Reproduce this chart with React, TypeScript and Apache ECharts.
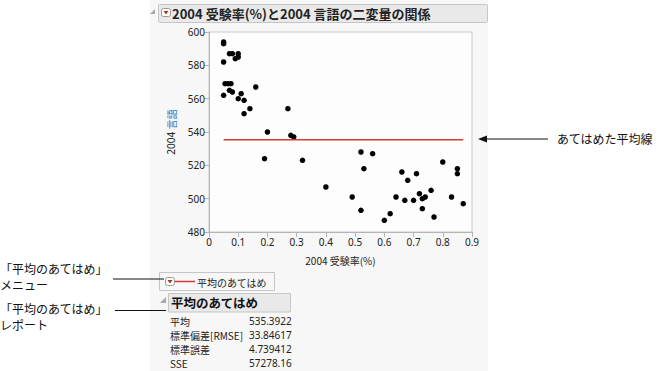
import React, { useEffect, useRef } from "react";
import * as echarts from "echarts";

// 2004 受験率 (x) and 2004 言語 (y)
const rate = [
  0.05, 0.05, 0.05, 0.07, 0.08, 0.1, 0.1, 0.09, 0.05, 0.055, 0.065, 0.075, 0.07, 0.08,
  0.11, 0.1, 0.12, 0.16, 0.14, 0.12, 0.27, 0.2, 0.28, 0.29, 0.19, 0.32, 0.4,
  0.52, 0.56, 0.53, 0.8, 0.85, 0.85, 0.66, 0.71, 0.68, 0.49, 0.64, 0.67, 0.7, 0.72,
  0.73, 0.74, 0.76, 0.83, 0.87, 0.52, 0.73, 0.62, 0.6, 0.77,
];
const verbal = [
  594, 593, 582, 587, 587, 587, 585, 584, 562, 569, 569, 569, 565, 564,
  563, 560, 559, 567, 554, 551, 554, 540, 538, 537, 524, 523, 507,
  528, 527, 518, 522, 518, 515, 516, 515, 511, 501, 501, 499, 499, 503,
  500, 501, 505, 501, 497, 493, 494, 491, 487, 489,
];
const meanValue = 535.3922;
const fitRange = [0.05, 0.87];
const reportLabels = ["平均", "標準偏差[RMSE]", "標準誤差", "SSE"];
const reportValues = ["535.3922", "33.84617", "4.739412", "57278.16"];
const titleText = "2004 受験率(%)と2004 言語の二変量の関係";
const xName = "2004 受験率(%)";
const legendText = "平均のあてはめ";
const reportTitle = "平均のあてはめ";
const noteMenu = ["「平均のあてはめ」", "メニュー"];
const noteReport = ["「平均のあてはめ」", "レポート"];
const noteLine = "あてはめた平均線";

const JP = '"Noto Sans CJK JP", "Noto Sans", sans-serif';

export default function App() {
  const ref = useRef<HTMLDivElement>(null);
  useEffect(() => {
    if (!ref.current) return;
    const chart = echarts.init(ref.current, undefined, { renderer: "svg" });
    const points = rate.map((r, i) => [r, verbal[i]]);
    const rowYs = [321, 335, 349, 363];
    const graphic: any[] = [
      // header
      { type: "polygon", shape: { points: [[155, 9], [155, 14], [150, 14]] }, style: { fill: "#a8a8a8" } },
      { type: "rect", shape: { x: 158.5, y: 4.5, width: 329, height: 18, r: 1 }, style: { fill: "#e9e9e9", stroke: "#c6c6c6", lineWidth: 1 } },
      { type: "rect", shape: { x: 161.5, y: 8.5, width: 9, height: 8, r: 2 }, style: { fill: "#fff", stroke: "#9a9a9a", lineWidth: 1 } },
      { type: "polygon", shape: { points: [[163.5, 11], [168.5, 11], [166, 14.5]] }, style: { fill: "#b8321f" } },
      { type: "text", x: 172, y: 13.5, style: { text: titleText, font: `bold 13px ${JP}`, fill: "#222", verticalAlign: "middle" } },
      // legend box
      { type: "rect", shape: { x: 159.5, y: 272.5, width: 115, height: 18 }, style: { fill: "#f7f7f7", stroke: "#c6c6c6", lineWidth: 1 } },
      { type: "rect", shape: { x: 165.5, y: 277.5, width: 9, height: 8, r: 2 }, style: { fill: "#fff", stroke: "#9a9a9a", lineWidth: 1 } },
      { type: "polygon", shape: { points: [[167.5, 280], [172.5, 280], [170, 283.5]] }, style: { fill: "#b8321f" } },
      { type: "line", shape: { x1: 175, y1: 281.5, x2: 195, y2: 281.5 }, style: { stroke: "#d9383a", lineWidth: 1.5 } },
      { type: "text", x: 197, y: 282, style: { text: legendText, font: `10px ${JP}`, fill: "#222", verticalAlign: "middle" } },
      // report
      { type: "polygon", shape: { points: [[166, 297], [166, 303], [160, 303]] }, style: { fill: "#a8a8a8" } },
      { type: "rect", shape: { x: 168.5, y: 293.5, width: 122, height: 18.5 }, style: { fill: "#e9e9e9", stroke: "#c6c6c6", lineWidth: 1 } },
      { type: "text", x: 171, y: 302.5, style: { text: reportTitle, font: `bold 12.5px ${JP}`, fill: "#111", verticalAlign: "middle" } },
      ...reportLabels.map((t, i) => ({ type: "text", x: 170, y: rowYs[i], style: { text: t, font: `10px ${JP}`, fill: "#222", verticalAlign: "middle" } })),
      ...reportValues.map((t, i) => ({ type: "text", x: 249, y: rowYs[i], style: { text: t, font: `10px "Noto Sans", sans-serif`, fill: "#222", verticalAlign: "middle" } })),
      // left notes
      { type: "text", x: 0, y: 268, style: { text: noteMenu[0], font: `12px ${JP}`, fill: "#111", verticalAlign: "middle" } },
      { type: "text", x: 0, y: 284, style: { text: noteMenu[1], font: `12px ${JP}`, fill: "#111", verticalAlign: "middle" } },
      { type: "line", shape: { x1: 113, y1: 279, x2: 164, y2: 279 }, style: { stroke: "#111", lineWidth: 1 } },
      { type: "text", x: 0, y: 308, style: { text: noteReport[0], font: `12px ${JP}`, fill: "#111", verticalAlign: "middle" } },
      { type: "text", x: 0, y: 324, style: { text: noteReport[1], font: `12px ${JP}`, fill: "#111", verticalAlign: "middle" } },
      { type: "line", shape: { x1: 115, y1: 310.5, x2: 166, y2: 310.5 }, style: { stroke: "#111", lineWidth: 1 } },
      // right note
      { type: "polygon", shape: { points: [[478, 139], [487, 135.5], [487, 142.5]] }, style: { fill: "#111" } },
      { type: "line", shape: { x1: 486, y1: 139, x2: 548, y2: 139 }, style: { stroke: "#111", lineWidth: 1 } },
      { type: "text", x: 557, y: 138, style: { text: noteLine, font: `12px ${JP}`, fill: "#111", verticalAlign: "middle" } },
    ];

    chart.setOption({
      animation: false,
      textStyle: { fontFamily: JP },
      grid: {
        left: 209, top: 32, width: 263, height: 200,
        show: true, backgroundColor: "#fdfdfd", borderColor: "#c9c9c9", borderWidth: 1,
      },
      xAxis: {
        type: "value", min: 0, max: 0.9, interval: 0.1,
        name: xName, nameLocation: "middle", nameGap: 23,
        nameTextStyle: { fontSize: 10, color: "#222", fontFamily: JP },
        axisLine: { show: true, lineStyle: { color: "#b5b5b5" } },
        axisTick: { show: true, length: 5, lineStyle: { color: "#b5b5b5" } },
        axisLabel: {
          fontSize: 10, color: "#222", margin: 5, fontFamily: '"Noto Sans", sans-serif',
          formatter: (v: number) => (v === 0 ? "0" : v.toFixed(1)),
        },
        splitLine: { show: false },
      },
      yAxis: {
        type: "value", min: 480, max: 600, interval: 20,
        name: "{a|2004 }{b|言語}", nameLocation: "middle", nameGap: 33, nameRotate: 90,
        nameTextStyle: {
          rich: {
            a: { fontSize: 10, color: "#222", fontFamily: '"Noto Sans", sans-serif' },
            b: { fontSize: 10, color: "#2f6fba", fontFamily: JP },
          },
        },
        axisLine: { show: true, lineStyle: { color: "#b5b5b5" } },
        axisTick: { show: true, length: 5, lineStyle: { color: "#b5b5b5" } },
        axisLabel: { fontSize: 10, color: "#222", margin: 4, fontFamily: '"Noto Sans", sans-serif' },
        splitLine: { show: false },
      },
      series: [
        {
          type: "line",
          data: [[fitRange[0], meanValue], [fitRange[1], meanValue]],
          symbol: "none",
          lineStyle: { color: "#d9383a", width: 1.5 },
          silent: true,
        },
        {
          type: "scatter",
          data: points,
          symbolSize: 5.5,
          itemStyle: { color: "#000", opacity: 1 },
        },
      ],
      graphic,
    });
    return () => chart.dispose();
  }, []);
  return (
    <div
      ref={ref}
      style={{
        position: "absolute", left: 0, top: 0, width: 663, height: 371,
        background: "linear-gradient(to right, #ffffff 150px, #f7f7f7 150px, #f7f7f7 488px, #ffffff 488px)",
      }}
    />
  );
}
